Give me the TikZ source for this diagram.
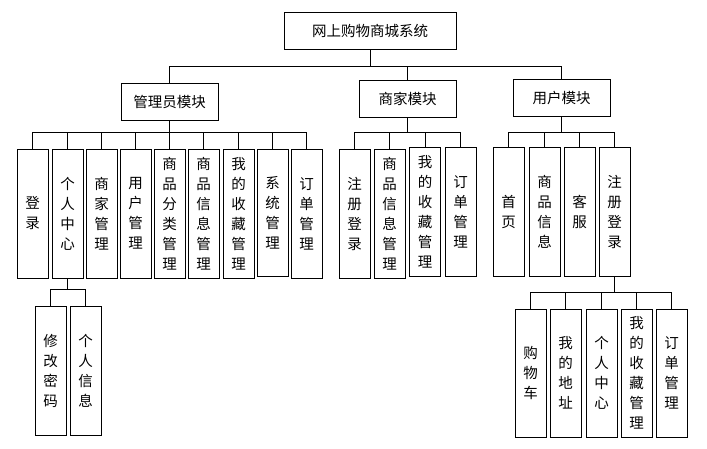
\documentclass[tikz,border=0pt]{standalone}
\usepackage{fontspec}
\newfontfamily\cjk{Noto Sans CJK SC}
\begin{document}
\begin{tikzpicture}[x=1pt,y=-1pt,line width=0.8pt,
  box/.style={draw, inner sep=0pt, align=center, font=\cjk\fontsize{14.5}{20}\selectfont},
  hbox/.style={box, minimum width=97pt, minimum height=37pt},
  vbox/.style={box, minimum width=31pt, minimum height=129pt},
  link/.style={draw, line width=0.8pt}]
\useasboundingbox (0,0) rectangle (707,448);
% root
\node[box, minimum width=172pt, minimum height=37pt] (root) at (370,30.5) {网上购物商城系统};
% modules
\node[hbox] (adm) at (169.5,101.5) {管理员模块};
\node[hbox] (mer) at (407.5,99) {商家模块};
\node[hbox] (usr) at (561.5,98) {用户模块};
% admin children
\node[vbox] (a1) at (32.5,213.5) {登\\录};
\node[vbox] (a2) at (67.5,213.5) {个\\人\\中\\心};
\node[vbox] (a3) at (101.5,213.5) {商\\家\\管\\理};
\node[vbox] (a4) at (135.5,213.5) {用\\户\\管\\理};
\node[vbox] (a5) at (169.5,213.5) {商\\品\\分\\类\\管\\理};
\node[vbox] (a6) at (203.5,213.5) {商\\品\\信\\息\\管\\理};
\node[vbox] (a7) at (238.5,213.5) {我\\的\\收\\藏\\管\\理};
\node[vbox, minimum height=127pt] (a8) at (272.5,212.5) {系\\统\\管\\理};
\node[vbox] (a9) at (306.5,213.5) {订\\单\\管\\理};
% merchant children
\node[vbox] (m1) at (354.5,213.5) {注\\册\\登\\录};
\node[vbox] (m2) at (389.5,213.5) {商\\品\\信\\息\\管\\理};
\node[vbox] (m3) at (425,211.5) {我\\的\\收\\藏\\管\\理};
\node[vbox] (m4) at (460.5,211.5) {订\\单\\管\\理};
% user children
\node[vbox] (u1) at (508.5,211.5) {首\\页};
\node[vbox] (u2) at (544.5,211.5) {商\\品\\信\\息};
\node[vbox] (u3) at (579.5,211.5) {客\\服};
\node[vbox] (u4) at (614.5,211.5) {注\\册\\登\\录};
% personal centre children
\node[vbox] (p1) at (50.5,370.5) {修\\改\\密\\码};
\node[vbox] (p2) at (85.5,370.5) {个\\人\\信\\息};
% user register children
\node[vbox, minimum height=128pt] (r1) at (530.5,373) {购\\物\\车};
\node[vbox, minimum height=128pt] (r2) at (565.5,373) {我\\的\\地\\址};
\node[vbox, minimum height=128pt] (r3) at (601.5,373) {个\\人\\中\\心};
\node[vbox, minimum height=128pt] (r4) at (636.5,373) {我\\的\\收\\藏\\管\\理};
\node[vbox, minimum height=128pt] (r5) at (671.5,373) {订\\单\\管\\理};
% connectors
\foreach \c in {adm,mer,usr} \path[link] (root.south) -- ++(0,17) -| (\c.north);
\foreach \c in {a1,a2,a3,a4,a5,a6,a7,a8,a9} \path[link] (adm.south) -- ++(0,12) -| (\c.north);
\foreach \c in {m1,m2,m3,m4} \path[link] (mer.south) -- ++(0,14) -| (\c.north);
\foreach \c in {u1,u2,u3,u4} \path[link] (usr.south) -- ++(0,15) -| (\c.north);
\foreach \c in {p1,p2} \path[link] (a2.south) -- ++(0,11) -| (\c.north);
\foreach \c in {r1,r2,r3,r4,r5} \path[link] (u4.south) -- ++(0,16) -| (\c.north);
\end{tikzpicture}
\end{document}
